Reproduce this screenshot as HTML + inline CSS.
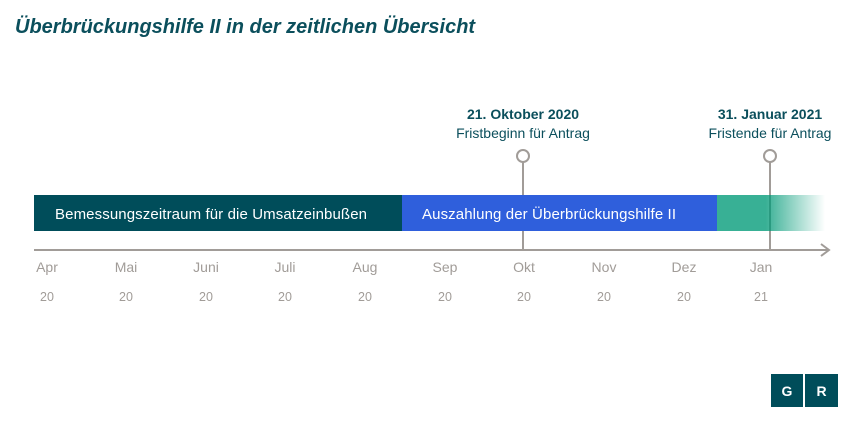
<!DOCTYPE html>
<html><head><meta charset="utf-8"><style>
body{margin:0;background:#fff;width:853px;height:421px;overflow:hidden;font-family:"Liberation Sans",sans-serif;}
</style></head><body>
<svg width="853" height="421" xmlns="http://www.w3.org/2000/svg" font-family="Liberation Sans, sans-serif">
<defs><linearGradient id="g" x1="0" x2="1"><stop offset="0" stop-color="#38b095"/><stop offset="0.45" stop-color="#38b095"/><stop offset="1" stop-color="#38b095" stop-opacity="0"/></linearGradient></defs>
<text x="15" y="33" font-size="20" font-weight="bold" font-style="italic" fill="#0b4f5c">Überbrückungshilfe II in der zeitlichen Übersicht</text>
<g stroke="#a19c98" stroke-width="2" fill="none">
<line x1="34" y1="250" x2="828" y2="250"/>
<polyline points="821,244 829,250 821,256"/>
<line x1="523" y1="162" x2="523" y2="250"/>
<line x1="770" y1="162" x2="770" y2="250"/>
<circle cx="523" cy="156" r="6" fill="#fff"/>
<circle cx="770" cy="156" r="6" fill="#fff"/>
</g>
<rect x="34" y="195" width="368" height="36" fill="#004d5a"/>
<rect x="402" y="195" width="315" height="36" fill="#2f5fdc"/>
<rect x="717" y="195" width="108" height="36" fill="url(#g)"/>
<line x1="770" y1="195" x2="770" y2="231" stroke="#2a9a80" stroke-width="2"/>
<text x="55" y="219" font-size="15" fill="#fff" textLength="312">Bemessungszeitraum für die Umsatzeinbußen</text>
<text x="422" y="219" font-size="15" fill="#fff" textLength="254">Auszahlung der Überbrückungshilfe II</text>
<g font-size="14" text-anchor="middle" fill="#0b4f5c">
<text x="523" y="119" font-weight="bold">21. Oktober 2020</text>
<text x="523" y="138">Fristbeginn für Antrag</text>
<text x="770" y="119" font-weight="bold">31. Januar 2021</text>
<text x="770" y="138">Fristende für Antrag</text>
</g>
<g font-size="14" fill="#a19c98" text-anchor="middle">
<text x="47" y="272">Apr</text><text x="126" y="272">Mai</text><text x="206" y="272">Juni</text><text x="285" y="272">Juli</text><text x="365" y="272">Aug</text><text x="445" y="272">Sep</text><text x="524" y="272">Okt</text><text x="604" y="272">Nov</text><text x="684" y="272">Dez</text><text x="761" y="272">Jan</text>
</g>
<g font-size="12.5" fill="#a19c98" text-anchor="middle">
<text x="47" y="301">20</text><text x="126" y="301">20</text><text x="206" y="301">20</text><text x="285" y="301">20</text><text x="365" y="301">20</text><text x="445" y="301">20</text><text x="524" y="301">20</text><text x="604" y="301">20</text><text x="684" y="301">20</text><text x="761" y="301">21</text>
</g>
<rect x="771" y="374" width="32" height="33" fill="#004d5a"/>
<rect x="805" y="374" width="33" height="33" fill="#004d5a"/>
<text x="787" y="396" font-size="14" font-weight="bold" fill="#fff" text-anchor="middle">G</text>
<text x="821.5" y="396" font-size="14" font-weight="bold" fill="#fff" text-anchor="middle">R</text>
</svg>
</body></html>
